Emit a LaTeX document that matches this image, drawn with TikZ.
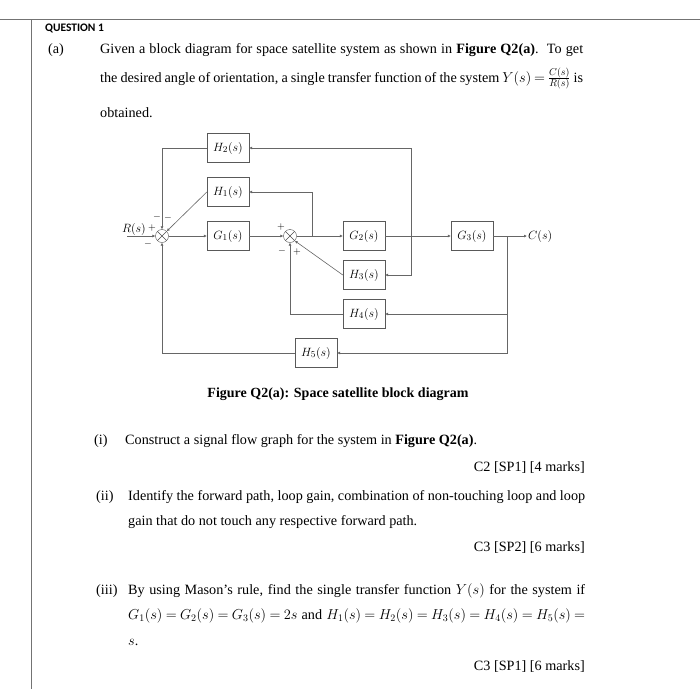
\documentclass[tikz,border=0pt]{standalone}
\usepackage{amsmath}
\usepackage{fontspec}
\setmainfont{Liberation Serif}
\newfontfamily\headfont{Carlito}
\usetikzlibrary{arrows.meta, positioning}

\begin{document}
\begin{tikzpicture}[x=1pt, y=-1pt,
        block/.style={draw=black!65, minimum width=42pt, minimum height=29pt, inner sep=1pt, font=\fontsize{12.5}{14}\selectfont},
        sumnode/.style={draw=black!70, circle, minimum size=13pt, inner sep=0pt,
            path picture={\draw[black!70] (path picture bounding box.north west) -- (path picture bounding box.south east)
                (path picture bounding box.north east) -- (path picture bounding box.south west);}},
        wire/.style={draw=black!60, line width=0.6pt},
        sig/.style={wire, -{Latex[length=3pt, width=3pt]}},
        sgn/.style={inner sep=0pt, font=\fontsize{10}{10}\selectfont},
        txt/.style={anchor=base west, inner sep=0pt, font=\fontsize{14.2}{16}\selectfont},
        marks/.style={anchor=base east, inner sep=0pt, font=\fontsize{14.2}{16}\selectfont}]
        \useasboundingbox (0,0) rectangle (700,691);

        % Frame
        \draw[black!55, line width=0.8pt] (0,19) -- (700,19);
        \draw[black!55, line width=0.8pt] (31,19) -- (31,689);

        % Question text
        \node[anchor=base west, inner sep=0pt, font=\headfont\bfseries\fontsize{11.5}{13}\selectfont] (qhead) at (45,31) {QUESTION 1};
        \node[txt] (pa) at (48,53) {(a)};
        \node[txt] (l1) at (100,53) {\hbox to 483pt{Given a block diagram for space satellite system as shown in \textbf{Figure Q2(a)}.\ \ To get}};
        \node[txt] (l2) at (100,82) {\thickmuskip=4mu plus 2mu minus 1mu\hbox to 483pt{the desired angle of orientation, a single transfer function of the system $Y(s)=\frac{C(s)}{R(s)}$ is}};
        \node[txt] (l3) at (100,117) {obtained.};

        % Coordinates
        \coordinate (in) at (127,236);
        \coordinate (b1) at (312,236);
        \coordinate (b2) at (411,236);
        \coordinate (b3) at (507,236);
        \coordinate (out) at (527,236);

        % Blocks
        \node[block] (H2) at (228,148) {$H_2(s)$};
        \node[block] (H1) at (228,192) {$H_1(s)$};
        \node[block] (G1) at (228,236) {$G_1(s)$};
        \node[block] (G2) at (364,236) {$G_2(s)$};
        \node[block] (G3) at (472,236) {$G_3(s)$};
        \node[block] (H3) at (364,275) {$H_3(s)$};
        \node[block] (H4) at (364,314) {$H_4(s)$};
        \node[block] (H5) at (316,353) {$H_5(s)$};
        \node[sumnode] (S1) at (162,236) {};
        \node[sumnode] (S2) at (290,236) {};

        % Forward path
        \draw[sig] (in) -- (S1);
        \draw[sig] (S1) -- (G1);
        \draw[sig] (G1) -- (S2);
        \draw[sig] (S2) -- (G2);
        \draw[sig] (G2) -- (G3);
        \draw[sig] (G3) -- (out);

        % Feedback paths
        \draw[sig] (b2) |- (H2.east);
        \draw[sig] (b2) |- (H3.east);
        \draw[sig] (b1) |- (H1.east);
        \draw[sig] (b3) |- (H4.east);
        \draw[sig] (b3) |- (H5.east);
        \draw[sig] (H2.west) -| (S1.north);
        \draw[sig] (H1.west) -- (S1.north east);
        \draw[sig] (H3.west) -- (S2.south east);
        \draw[sig] (H4.west) -| (S2.south);
        \draw[sig] (H5.west) -| (S1.south);

        % Labels
        \node[anchor=base east, inner sep=0pt, font=\fontsize{12.5}{14}\selectfont] (Rlab) at (146,232) {$R(s)$};
        \node[right, inner sep=1pt, font=\fontsize{12.5}{14}\selectfont] (Clab) at (out) {$C(s)$};
        \node[sgn] at (152,228) {$+$};
        \node[sgn] at (157,217) {$-$};
        \node[sgn] at (168,218) {$-$};
        \node[sgn] at (148,244) {$-$};
        \node[sgn] at (281,227) {$+$};
        \node[sgn] at (282,251) {$-$};
        \node[sgn] at (297,252) {$+$};
        \node[anchor=base, inner sep=0pt, font=\bfseries\fontsize{14}{16}\selectfont] (cap) at (338,397) {Figure Q2(a): Space satellite block diagram};

        % Parts
        \node[txt] (pi) at (94,444) {(i)};
        \node[txt] (t1) at (125,444) {Construct a signal flow graph for the system in \textbf{Figure Q2(a)}.};
        \node[marks] (m1) at (585,471) {C2 [SP1] [4 marks]};
        \node[txt] (pii) at (96,500) {(ii)};
        \node[txt] (t2) at (128,500) {\hbox to 457pt{Identify the forward path, loop gain, combination of non-touching loop and loop}};
        \node[txt] (t3) at (128,525) {gain that do not touch any respective forward path.};
        \node[marks] (m2) at (585,551) {C3 [SP2] [6 marks]};
        \node[txt] (piii) at (96,594) {(iii)};
        \node[txt] (t4) at (128,594) {\hbox to 457pt{By using Mason's rule, find the single transfer function $Y(s)$ for the system if}};
        \node[txt] (t5) at (128,619) {\thickmuskip=3.5mu plus 2mu minus 1mu\hbox to 457pt{$G_1(s)=G_2(s)=G_3(s)=2s$ and $H_1(s)=H_2(s)=H_3(s)=H_4(s)=H_5(s)=$}};
        \node[txt] (t6) at (128,645) {$s$.};
        \node[marks] (m3) at (585,670) {C3 [SP1] [6 marks]};
    \end{tikzpicture}
\end{document}
